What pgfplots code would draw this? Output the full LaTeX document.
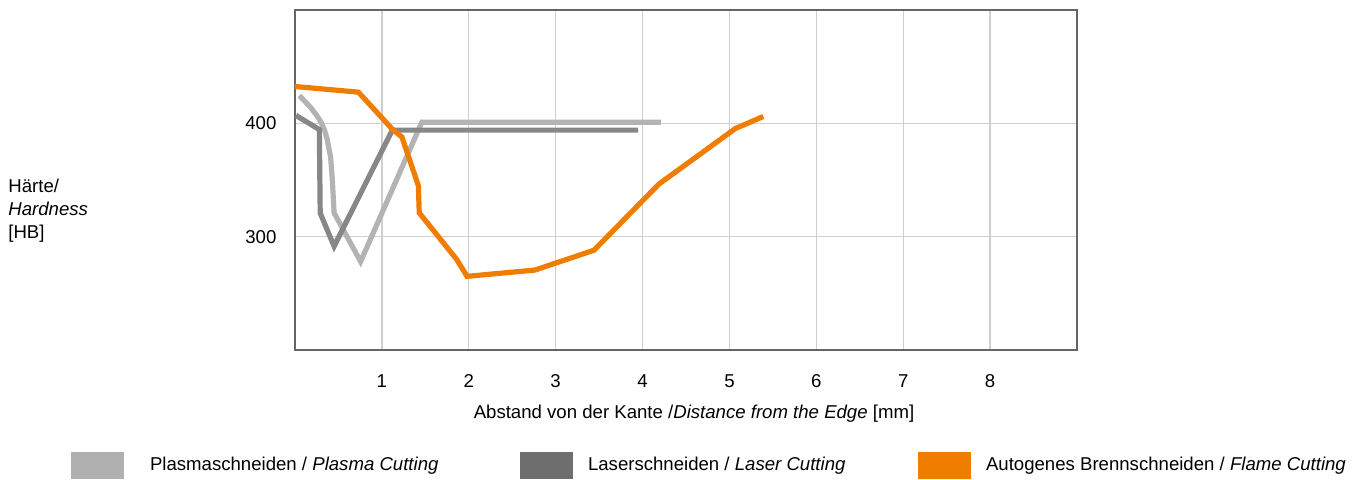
\documentclass[border=0pt]{standalone}
\usepackage{fontspec}
\setmainfont{Liberation Sans}
\usepackage{pgfplots}
\pgfplotsset{compat=1.18}

\definecolor{plasmaline}{HTML}{B3B3B3}
\definecolor{plasmabox}{HTML}{B0B0B0}
\definecolor{laserline}{HTML}{878787}
\definecolor{laserbox}{HTML}{6E6E6E}
\definecolor{flame}{HTML}{F07D00}
\definecolor{frame}{HTML}{666666}

\begin{document}
\fontsize{9.3}{11.5}\selectfont
\begin{tikzpicture}
\useasboundingbox (0,0) rectangle (679.5pt,240pt);
\node[anchor=west,align=left,inner sep=0pt] at (4pt,134.5pt) {Härte/\\\textit{Hardness}\\{[HB]}};
\begin{axis}[
at={(147.5pt,65pt)},anchor=south west,
scale only axis,width=391pt,height=170pt,
font=\fontsize{9.3}{11.5}\selectfont,
/pgf/number format/assume math mode=true,
xmin=0,xmax=9,ymin=200,ymax=500,
xtick={1,2,3,4,5,6,7,8},ytick={300,400},
major tick length=0pt,
grid=major,grid style={color=black!19,line width=0.7pt},
axis line style={frame,line width=0.7pt},
yticklabel style={xshift=-6pt},
xticklabel style={yshift=-9pt},
xlabel={Abstand von der Kante /\textit{Distance from the Edge} [mm]},
xlabel style={yshift=-2pt,xshift=4pt},
legend style={at={(-0.2864,-0.3397)},anchor=west,draw=none,fill=none,
  inner sep=0pt,outer sep=0pt,column sep=7.5pt,
  nodes={inner sep=0pt},
  /tikz/every even column/.append style={column sep=0pt}},
legend columns=3,
legend cell align=left,
legend image code/.code={\fill[#1] (0pt,-6.75pt) rectangle (26.5pt,6.75pt);},
]
\addplot[plasmaline,line width=2.6pt,no marks,forget plot] coordinates {
(0.05,424.5) (0.18,414) (0.25,407) (0.30,401) (0.34,394) (0.37,386)
(0.41,370) (0.43,350) (0.45,321) (0.755,278) (1.46,401) (4.21,401)};
\addplot[laserline,line width=2.6pt,no marks,forget plot] coordinates {
(0.01,407) (0.28,394.5) (0.29,320.8) (0.45,291.5) (1.12,394) (3.95,394)};
\addplot[flame,line width=2.6pt,no marks,forget plot] coordinates {
(0,432.5) (0.73,427.5) (1.13,394) (1.23,388) (1.42,345) (1.43,321)
(1.86,280) (1.98,265) (2.76,270.5) (3.44,288) (4.19,346.5) (5.07,395.5) (5.39,406)};
\addlegendimage{fill=plasmabox,draw=none}
\addlegendentry{\makebox[190.5pt][l]{\hspace*{5.5pt}Plasmaschneiden / \textit{Plasma Cutting}}}
\addlegendimage{fill=laserbox,draw=none}
\addlegendentry{\makebox[165pt][l]{Laserschneiden / \textit{Laser Cutting}}}
\addlegendimage{fill=flame,draw=none}
\addlegendentry{Autogenes Brennschneiden / \textit{Flame Cutting}}
\end{axis}
\end{tikzpicture}
\end{document}
